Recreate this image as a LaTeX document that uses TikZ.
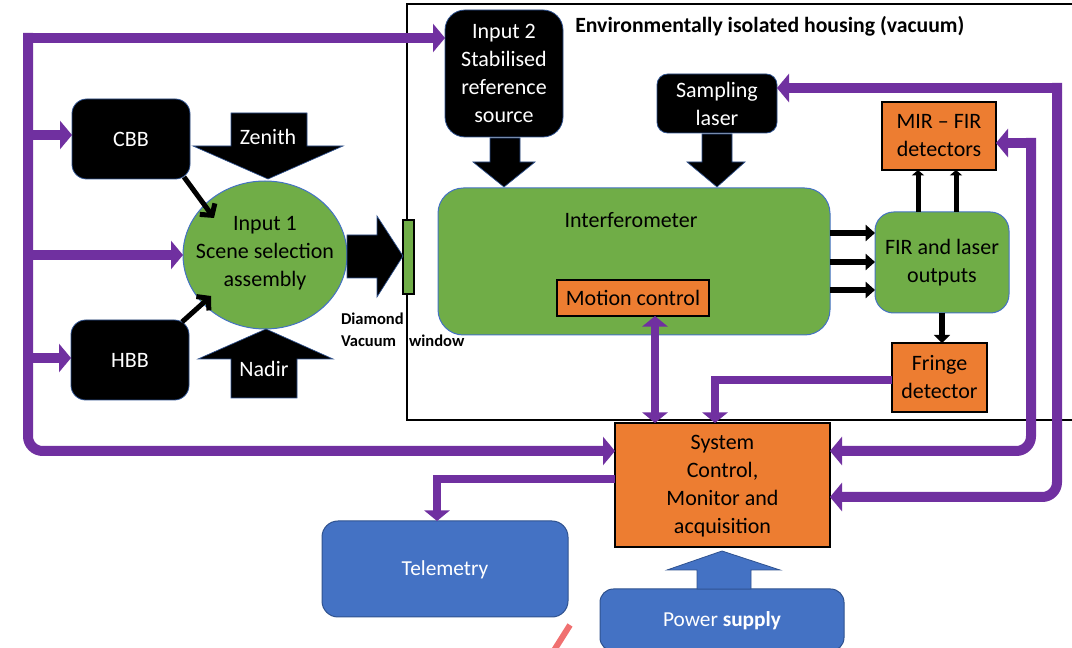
\documentclass[tikz,border=0pt]{standalone}
\usepackage{fontspec}
\setmainfont{Carlito}
\usetikzlibrary{arrows.meta,fit,shapes.geometric,calc}
\definecolor{grn}{HTML}{70AD47}
\definecolor{orng}{HTML}{ED7D31}
\definecolor{blu}{HTML}{4472C4}
\definecolor{bluedge}{HTML}{2F528F}
\definecolor{purp}{HTML}{7030A0}
\definecolor{redslash}{HTML}{F07070}
\newcommand\fsA{\fontsize{16.5}{21}\selectfont}
\newcommand\fsB{\fontsize{16}{21}\selectfont}
\begin{document}
\begin{tikzpicture}[x=0.75pt,y=-0.75pt,
  base/.style={inner sep=0pt, outer sep=0pt, align=center, font=\fsA},
  blk/.style={base, fill=black, draw=bluedge, line width=0.6pt, rounded corners=11pt},
  grnbox/.style={base, fill=grn, draw=blu, line width=0.75pt, rounded corners=16pt},
  orbox/.style={base, fill=orng, draw=black, line width=1.1pt},
  blubox/.style={base, fill=blu, draw=bluedge, line width=0.75pt, rounded corners=12pt},
  wtxt/.style={base, text=white},
  btxt/.style={base, text=black},
  blockarr/.style={fill=black, draw=bluedge, line width=0.5pt},
  parr/.style={draw=purp, line width=7.5pt, -{Triangle[length=9pt,width=21pt]}},
  parrthin/.style={draw=purp, line width=6.5pt, -{Triangle[length=8pt,width=19pt]}},
  pdbl/.style={draw=purp, line width=6.5pt, {Triangle[length=8pt,width=19pt]}-{Triangle[length=8pt,width=19pt]}},
  blkarr/.style={draw=black, line width=5pt, -{Triangle[length=7pt,width=12pt]}},
  uparr/.style={draw=black, line width=3.75pt, -{Triangle[length=4pt,width=9pt]}},
  barb/.style={draw=black, line width=3.75pt, -{Straight Barb[length=6pt,width=14pt]}},
  lbl/.style={inner sep=0pt, outer sep=0pt, font=\fontsize{12.4}{14}\selectfont\bfseries, anchor=west}
]
\useasboundingbox (0,0) rectangle (1072,648);

% housing
\draw[line width=1.6pt] (1080,4) -- (407,4) -- (407,420) -- (1080,420);
\node[inner sep=0pt, anchor=west, font=\fontsize{16.3}{18}\selectfont\bfseries] (title) at (575,26) {Environmentally isolated housing (vacuum)};

% black boxes
\node[blk, fit={(72,99) (190,179)}] (cbb) {};
\node[wtxt] (cbbT) at (cbb.center) {CBB};
\node[blk, fit={(71,320) (189,400)}] (hbb) {};
\node[wtxt] (hbbT) at (hbb.center) {HBB};
\node[blk, rounded corners=15pt, fit={(445,10) (563,137)}] (in2) {};
\node[wtxt] (in2T) at (in2.center) {Input 2\\Stabilised\\reference\\source};
\node[blk, rounded corners=8pt, fit={(657,74) (777,133)}] (samp) {};
\node[wtxt] (sampT) at (samp.center) {Sampling\\laser};

% green shapes
\node[base, ellipse, fill=grn, draw=blu, line width=0.75pt, minimum width=123pt, minimum height=111pt] (scene) at (265,255) {};
\node[btxt] (sceneT) at (265,253) {Input 1\\Scene selection\\assembly};
\node[grnbox, rounded corners=19pt, fit={(438,188) (830,335)}] (interf) {};
\node[btxt] (interfT) at (631,220) {Interferometer};
\node[grnbox, rounded corners=14pt, fit={(875,212) (1009,313)}] (fir) {};
\node[btxt] (firT) at (fir.center) {FIR and laser\\outputs};
\node[base, fill=grn, draw=black, line width=0.8pt, fit={(403,220) (414,294)}] (win) {};

% orange boxes
\node[orbox, fit={(557,280) (709,316)}] (motion) {};
\node[btxt] (motionT) at (motion.center) {Motion control};
\node[orbox, fit={(882,102) (996,170)}] (mir) {};
\node[btxt] (mirT) at (mir.center) {MIR -- FIR\\detectors};
\node[orbox, fit={(892,343) (987,412)}] (fringe) {};
\node[btxt] (fringeT) at (fringe.center) {Fringe\\detector};
\node[orbox, fit={(615,423) (830,547)}] (sys) {};
\node[btxt] (sysT) at ([yshift=-1pt]sys.center) {System\\Control,\\Monitor and\\acquisition};

% blue boxes
\node[blubox, fit={(322,521) (568,617)}] (tele) {};
\node[wtxt, font=\fsB] (teleT) at (445,570) {Telemetry};
\node[blubox, rounded corners=10pt, fit={(600,589) (844,651)}] (power) {};
\node[wtxt, font=\fsB] (powerT) at (722,621) {Power \textbf{supply}};

% window labels
\node[lbl] (diam) at (341,319) {Diamond};
\node[lbl] (vac) at (341,341) {Vacuum};
\node[lbl] (wind) at (409,341) {window};

% block arrows
\draw[blockarr] (231,113) -- (307,113) -- (307,146) -- (343,146) -- (268,179) -- (193,146) -- (231,146) -- cycle;
\node[wtxt] (zen) at (268,137) {Zenith};
\draw[blockarr] (231,398) -- (297,398) -- (297,359) -- (333,359) -- (266,329) -- (198,359) -- (231,359) -- cycle;
\node[wtxt] (nad) at (264,369) {Nadir};
\draw[blockarr] (347,235) -- (377,235) -- (377,216) -- (403,256) -- (377,297) -- (377,278) -- (347,278) -- cycle;
\draw[blockarr] (490,138) -- (520,138) -- (520,162) -- (535,162) -- (504,187) -- (473,162) -- (490,162) -- cycle;
\draw[blockarr] (702,134) -- (732,134) -- (732,162) -- (745,162) -- (717,187) -- (687,162) -- (702,162) -- cycle;
\draw[fill=blu, draw=bluedge, line width=0.6pt] (697,589) -- (751,589) -- (751,570) -- (780,570) -- (722,551) -- (667,570) -- (697,570) -- cycle;

% black connectors
\coordinate (c1) at (184,177);
\coordinate (c2) at (214,218);
\coordinate (h1) at (182,322);
\coordinate (h2) at (211,296);
\draw[barb] (c1) -- (c2);
\draw[barb] (h1) -- (h2);
\coordinate (r1) at (850,233);
\coordinate (r2) at (850,262);
\coordinate (r3) at (850,290);
\draw[blkarr] (interf.east |- r1) -- (fir.west |- r1);
\draw[blkarr] (interf.east |- r2) -- (fir.west |- r2);
\draw[blkarr] (interf.east |- r3) -- (fir.west |- r3);
\coordinate (u1) at (918,190);
\coordinate (u2) at (956,190);
\draw[uparr] (fir.north -| u1) -- (mir.south -| u1);
\draw[uparr] (fir.north -| u2) -- (mir.south -| u2);
\coordinate (d1) at (942,330);
\draw[draw=black, line width=5pt, -{Triangle[length=6pt,width=12pt]}] (fir.south -| d1) -- (fringe.north -| d1);

% purple bus on the left
\coordinate (bustop) at (28,38);
\coordinate (busbot) at (28,451);
\draw[parr] (bustop) -- (in2.west |- bustop);
\draw[parr, rounded corners=11pt] ([yshift=3.75pt]bustop) -- (busbot) -- (sys.west |- busbot);
\coordinate (br1) at (28,135);
\coordinate (br2) at (28,255);
\coordinate (br3) at (28,358);
\draw[parr] (br1) -- (cbb.west |- br1);
\draw[parr] (br2) -- (scene.west);
\draw[parr] (br3) -- (hbb.west |- br3);

% purple on the right
\coordinate (sl1) at (1057,88);
\coordinate (sl2) at (1057,497);
\draw[parr] ([xshift=3.75pt]sl1) -- (samp.east |- sl1);
\draw[parr, rounded corners=11pt] ([yshift=3.75pt]sl1) -- (sl2) -- (sys.east |- sl2);
\coordinate (m1) at (1031,143);
\coordinate (m2) at (1031,451);
\draw[parr] ([xshift=3.75pt]m1) -- (mir.east |- m1);
\draw[parr, rounded corners=11pt] ([yshift=3.75pt]m1) -- (m2) -- (sys.east |- m2);

% fringe, motion, telemetry
\coordinate (f1) at (715,380);
\draw[parrthin] (fringe.west |- f1) -- (f1) -- (f1 |- sys.north);
\coordinate (mc) at (655,316);
\draw[pdbl] (motion.south -| mc) -- (sys.north -| mc);
\coordinate (t1) at (437,479);
\draw[parrthin] (sys.west |- t1) -- (t1) -- (t1 |- tele.north);

% red stroke
\draw[line width=4.5pt, redslash] (570,625) -- (553,652);
\end{tikzpicture}
\end{document}
